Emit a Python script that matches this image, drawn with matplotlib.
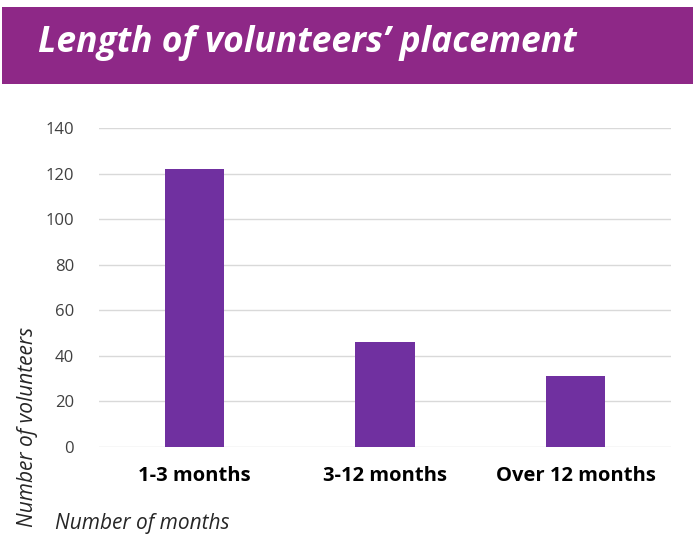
import matplotlib.pyplot as plt
from matplotlib.patches import Rectangle

categories = ["1-3 months", "3-12 months", "Over 12 months"]
volunteers = [122, 46, 31]
yticks = [0, 20, 40, 60, 80, 100, 120, 140]

plt.rcParams['font.family'] = ['Open Sans', 'DejaVu Sans']

fig = plt.figure(figsize=(6.93, 5.35), dpi=100)

# purple title banner
fig.patches.append(Rectangle((2 / 693, 1 - 84 / 535), 691 / 693, 77 / 535,
                             transform=fig.transFigure, facecolor='#8E2887',
                             edgecolor='none', zorder=0))
fig.text(38 / 693, 1 - 43 / 535, "Length of volunteers\u2019 placement",
         color='white', fontsize=25.5, fontweight='bold', style='italic',
         va='center', ha='left')

ax = fig.add_axes([99 / 693, 1 - 447 / 535, 572 / 693, 319 / 535])
x = range(len(categories))
ax.bar(x, volunteers, width=0.31, color='#7030A0', zorder=3)
ax.set_xlim(-0.5, 2.5)
ax.set_ylim(0, 140)
ax.set_yticks(yticks)
ax.set_xticks(list(x))
ax.set_xticklabels(categories, fontsize=14.5, fontweight='bold')
ax.tick_params(axis='x', length=0, pad=14)
ax.tick_params(axis='y', length=0, pad=18, labelsize=12, labelcolor='#404040')
ax.grid(axis='y', color='#D9D9D9', linewidth=1, zorder=0)
for s in ax.spines.values():
    s.set_visible(False)

fig.text(28 / 693, 1 - 527 / 535, "Number of volunteers", rotation=90,
         style='italic', fontsize=15, color='#262626', ha='center', va='bottom')
fig.text(55 / 693, 1 - 524 / 535, "Number of months", style='italic',
         fontsize=15, color='#262626', ha='left', va='center')

fig.savefig('out.png', dpi=100)
